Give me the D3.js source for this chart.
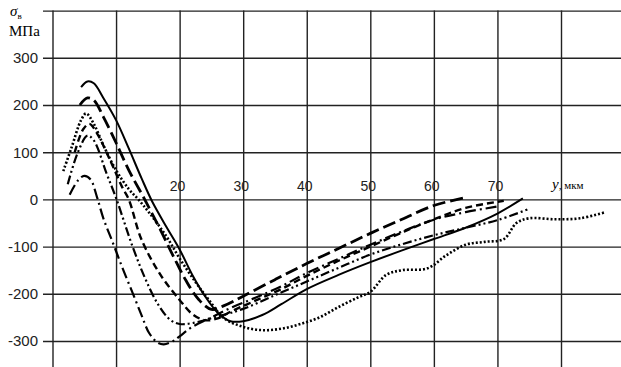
<!DOCTYPE html>
<html>
<head>
<meta charset="utf-8">
<script src="https://cdn.jsdelivr.net/npm/d3@7"></script>
<style>
  body { margin: 0; background: #fff; }
  svg { display: block; }
  .grid line { stroke: #222; stroke-width: 1.4; }
  .grid path { display: none; }
  .grid text { font-family: "Liberation Sans", Arial, sans-serif; font-size: 15px; fill: #222; }
</style>
</head>
<body>
<div id="chart"></div>
<script>
// tick values
const xGrid = [0, 10, 20, 30, 40, 50, 60, 70, 80];
const xLabels = [20, 30, 40, 50, 60, 70];
const yTicks = [-300, -200, -100, 0, 100, 200, 300, 400];

// curves, [y mkm, sigma MPa]
const solidCurve = [[4.5,238],[5.5,250],[6.5,246],[8,215],[10,168],[12,108],[14,45],[15.7,-5],[18,-60],[20,-106],[22,-160],[24,-205],[26,-240],[28,-258],[30,-258],[33,-245],[36,-222],[40,-190],[45,-160],[50,-133],[55,-108],[60,-84],[65,-60],[70,-30],[74,2]];
const longDashCurve = [[4.3,200],[5.5,215],[6.5,210],[8,175],[10,120],[12,62],[14.5,0],[17,-65],[19,-120],[21,-172],[23,-212],[25,-233],[27,-225],[30,-205],[35,-170],[40,-136],[45,-104],[50,-72],[55,-42],[60,-13],[65,4]];
const dottedCurve = [[1.7,60],[3,110],[4.5,168],[5.3,182],[6.5,160],[8,115],[10,62],[12,22],[13.5,0],[15.2,-28],[17.9,-78],[20,-125],[22.6,-177],[24.6,-213],[27,-252],[30,-270],[33,-277],[36,-274],[39,-264],[42,-250],[45,-228],[48,-208],[50,-196],[52.5,-160],[55,-150],[59,-146],[62,-118],[65,-96],[68,-90],[71,-84],[73,-50],[75,-40],[79,-42],[83,-40],[87,-27]];
const dashDotCurve = [[2.7,10],[4,40],[5,50],[6,42],[7,5],[8,-40],[9.5,-92],[11,-145],[12.6,-198],[14,-245],[15.2,-283],[16.5,-303],[17.5,-307],[19,-300],[20,-290],[22,-270],[25,-250],[28,-230],[32,-208],[36,-184],[40,-156],[45,-126],[50,-96],[55,-68],[60,-43],[65,-27],[70,-15]];
const dashDotDotCurve = [[2.4,32],[4,100],[5.5,135],[6.5,125],[8.5,55],[10,3],[12.6,-100],[14.5,-165],[16.5,-220],[18.5,-255],[20,-264],[22,-262],[26,-248],[30,-232],[35,-203],[40,-174],[45,-145],[50,-117],[55,-95],[60,-76],[65,-60],[70,-44],[75,-20]];
const dashCurve = [[3.5,100],[4.8,148],[5.8,160],[7,140],[9,85],[11,25],[12,0],[14,-85],[17,-160],[20,-213],[22,-243],[24,-256],[26,-252],[28,-238],[32,-214],[36,-190],[40,-162],[45,-130],[50,-100],[55,-70],[60,-42],[65,-18],[71,-3]];

const width = 621, height = 367;

const svg = d3.select("#chart").append("svg")
    .attr("width", width)
    .attr("height", height);

const x = d3.scaleLinear().domain([0, 80]).range([52.5, 561]);
const y = d3.scaleLinear().domain([-300, 400]).range([341, 10.6]);

// horizontal grid + y labels
svg.append("g")
    .attr("class", "grid")
    .attr("transform", "translate(43,0)")
    .call(d3.axisLeft(y)
        .tickValues(yTicks)
        .tickSizeInner(-(width - 43))
        .tickSizeOuter(0)
        .tickPadding(5)
        .tickFormat(d => d === 400 ? "" : d3.format("d")(d).replace("−", "-")));

// vertical grid
svg.append("g")
    .attr("class", "grid")
    .attr("transform", "translate(0," + y(400) + ")")
    .call(d3.axisTop(x)
        .tickValues(xGrid)
        .tickSizeInner(-(height - y(400)))
        .tickSizeOuter(0)
        .tickFormat(""));

// x labels sit above the zero line
svg.append("g").selectAll("text")
    .data(xLabels)
    .enter().append("text")
    .attr("x", d => x(d) - 2)
    .attr("y", y(0) - 8)
    .attr("text-anchor", "middle")
    .style("font-family", "Liberation Sans, Arial, sans-serif")
    .style("font-size", "14px")
    .style("fill", "#222")
    .text(d => d);

// axis titles
const xt = svg.append("text")
    .attr("x", x(80) - 9)
    .attr("y", y(0) - 10)
    .style("font-family", "Liberation Serif, Times New Roman, serif")
    .style("font-size", "15px");
xt.append("tspan").style("font-style", "italic").text("y");
xt.append("tspan").style("font-size", "11px").text(", мкм");

const yt = svg.append("text")
    .attr("x", 10)
    .attr("y", 16)
    .style("font-family", "Liberation Serif, Times New Roman, serif")
    .style("font-size", "15px");
yt.append("tspan").style("font-style", "italic").text("σ");
yt.append("tspan").attr("dy", 3).style("font-size", "9px").text("в");

svg.append("text")
    .attr("x", 9)
    .attr("y", 36)
    .style("font-family", "Liberation Serif, Times New Roman, serif")
    .style("font-size", "15px")
    .text("МПа");

// curves
const line = d3.line()
    .x(d => x(d[0]))
    .y(d => y(d[1]))
    .curve(d3.curveCatmullRom.alpha(0.5));

const curves = [
    { data: solidCurve, dash: null, w: 2 },
    { data: longDashCurve, dash: "13,5", w: 2.8 },
    { data: dottedCurve, dash: "2,2", w: 2.6 },
    { data: dashDotCurve, dash: "11,4,2,4", w: 2.2 },
    { data: dashDotDotCurve, dash: "9,3,2,3,2,3", w: 2.2 },
    { data: dashCurve, dash: "7,4", w: 2.4 }
];

svg.append("g").selectAll("path")
    .data(curves)
    .enter().append("path")
    .attr("d", d => line(d.data))
    .attr("fill", "none")
    .attr("stroke", "#000")
    .attr("stroke-width", d => d.w)
    .attr("stroke-dasharray", d => d.dash);
</script>
</body>
</html>
